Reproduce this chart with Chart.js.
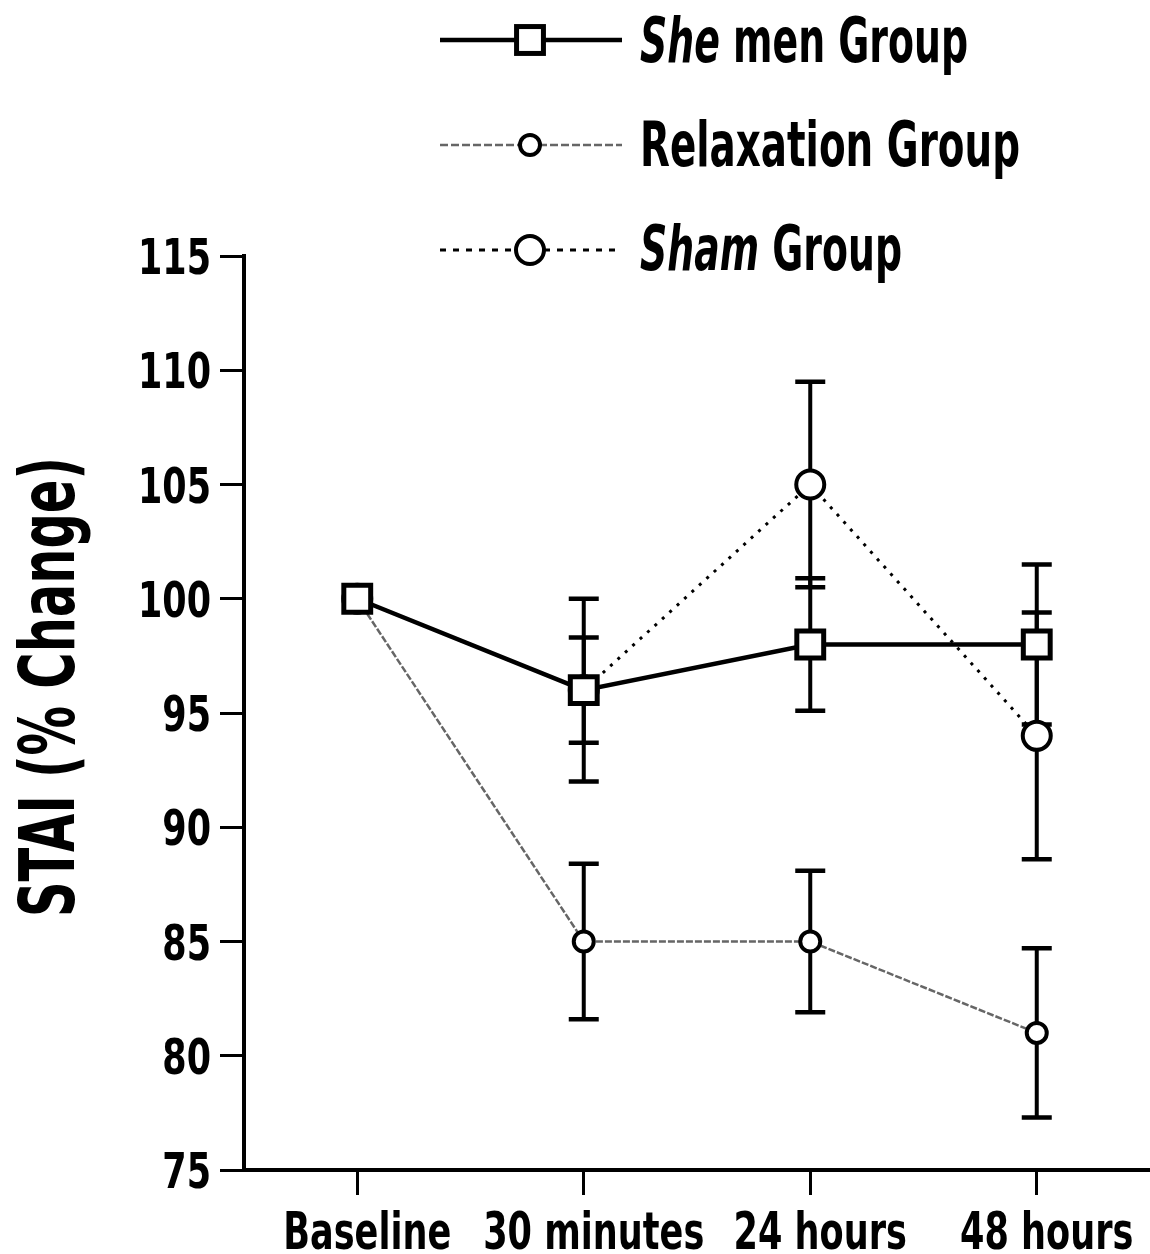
<!DOCTYPE html>
<html>
<head>
<meta charset="utf-8">
<script src="https://cdn.jsdelivr.net/npm/chart.js@4/dist/chart.umd.min.js"></script>
<style>
  html, body { margin: 0; padding: 0; background: #fff; }
  #wrap { width: 1150px; height: 1254px; position: relative; }
</style>
</head>
<body>
<div id="wrap"><canvas id="c" width="1150" height="1254"></canvas></div>
<script>
// ---- data ----
const categories = ['Baseline', '30 minutes', '24 hours', '48 hours'];
const shemenValues = [100, 96, 98, 98];
const shemenErr = [0, 2.3, 2.9, 3.5];
const relaxationValues = [100, 85, 85, 81];
const relaxationErr = [0, 3.4, 3.1, 3.7];
const shamValues = [100, 96, 105, 94];
const shamErr = [0, 4.0, 4.5, 5.4];
const yMin = 75, yMax = 115, yStep = 5;
const seriesNames = ['She men Group', 'Relaxation Group', 'Sham Group'];
const yTitle = 'STAI (% Change)';

const FONT = '"Liberation Sans Narrow", "DejaVu Sans Condensed", "DejaVu Sans", sans-serif';

const errorSets = [shemenErr, shamErr, relaxationErr];

const errorBarPlugin = {
  id: 'errorBars',
  beforeDatasetsDraw(chart) {
    const ctx = chart.ctx;
    const y = chart.scales.y;
    ctx.save();
    ctx.strokeStyle = '#000';
    chart.data.datasets.forEach((ds, di) => {
      const meta = chart.getDatasetMeta(di);
      const errs = errorSets[di];
      meta.data.forEach((pt, i) => {
        const e = errs[i];
        if (!e) return;
        const v = ds.data[i];
        const yTop = y.getPixelForValue(v + e);
        const yBot = y.getPixelForValue(v - e);
        const x = pt.x;
        ctx.lineWidth = 4;
        ctx.beginPath();
        ctx.moveTo(x, yTop); ctx.lineTo(x, yBot);
        ctx.stroke();
        ctx.lineWidth = 4.5;
        ctx.beginPath();
        ctx.moveTo(x - 15, yTop); ctx.lineTo(x + 15, yTop);
        ctx.moveTo(x - 15, yBot); ctx.lineTo(x + 15, yBot);
        ctx.stroke();
      });
    });
    ctx.restore();
  }
};

function drawSegments(ctx, segs, x, y, targetW, size) {
  let total = 0;
  segs.forEach(s => { ctx.font = (s.italic ? 'italic ' : '') + 'bold ' + size + 'px ' + FONT; total += ctx.measureText(s.t).width; });
  const sx = targetW / total;
  ctx.save();
  ctx.translate(x, y);
  ctx.scale(sx, 1);
  let cx = 0;
  segs.forEach(s => {
    ctx.font = (s.italic ? 'italic ' : '') + 'bold ' + size + 'px ' + FONT;
    ctx.fillText(s.t, cx, 0);
    cx += ctx.measureText(s.t).width;
  });
  ctx.restore();
}

// condensed tick labels drawn from the scales' own ticks
const tickLabelPlugin = {
  id: 'tickLabels',
  afterDraw(chart) {
    const ctx = chart.ctx;
    ctx.save();
    ctx.fillStyle = '#000';
    ctx.textBaseline = 'alphabetic';
    const ys = chart.scales.y;
    ctx.font = 'bold 50px ' + FONT;
    const syx = 73 / ctx.measureText('100').width;
    ys.ticks.forEach((t, i) => {
      const py = ys.getPixelForTick(i);
      const w = ctx.measureText(t.label).width;
      ctx.save();
      ctx.translate(211, py + 18);
      ctx.scale(syx, 1);
      ctx.fillText(t.label, -w, 0);
      ctx.restore();
    });
    const xs = chart.scales.x;
    ctx.font = 'bold 52px ' + FONT;
    const sxx = 168 / ctx.measureText(categories[0]).width;
    xs.ticks.forEach((t, i) => {
      const px = xs.getPixelForTick(i);
      const label = categories[t.value] !== undefined ? categories[t.value] : t.label;
      const w = ctx.measureText(label).width;
      ctx.save();
      ctx.translate(px + 10, 1249);
      ctx.scale(sxx, 1);
      ctx.fillText(label, -w / 2, 0);
      ctx.restore();
    });
    ctx.restore();
  }
};

const legendPlugin = {
  id: 'customLegend',
  afterDraw(chart) {
    const ctx = chart.ctx;
    ctx.save();
    ctx.fillStyle = '#000';
    ctx.textBaseline = 'alphabetic';
    ctx.textAlign = 'left';
    const rows = [
      { y: 40, ds: chart.data.datasets[0], segs: [{t: 'She', italic: true}, {t: ' men Group'}], base: 62, w: 328 },
      { y: 145, ds: chart.data.datasets[2], segs: [{t: 'Relaxation Group'}], base: 166, w: 380 },
      { y: 250, ds: chart.data.datasets[1], segs: [{t: 'Sham', italic: true}, {t: ' Group'}], base: 270, w: 262 }
    ];
    rows.forEach(r => {
      const ds = r.ds;
      ctx.save();
      ctx.strokeStyle = ds.borderColor;
      ctx.lineWidth = ds.borderWidth;
      ctx.setLineDash(ds.legendDash || ds.borderDash || []);
      ctx.beginPath();
      ctx.moveTo(440, r.y); ctx.lineTo(622, r.y);
      ctx.stroke();
      ctx.restore();
      ctx.save();
      ctx.setLineDash([]);
      ctx.lineWidth = ds.pointBorderWidth;
      ctx.strokeStyle = '#000';
      ctx.fillStyle = '#fff';
      const mx = 530;
      if (ds.pointStyle === 'rect') {
        const s = ds.pointRadius / Math.SQRT2;
        ctx.fillRect(mx - s, r.y - s, 2 * s, 2 * s);
        ctx.strokeRect(mx - s, r.y - s, 2 * s, 2 * s);
      } else {
        ctx.beginPath();
        ctx.arc(mx, r.y, ds.pointRadius, 0, Math.PI * 2);
        ctx.fill(); ctx.stroke();
      }
      ctx.restore();
      ctx.fillStyle = '#000';
      drawSegments(ctx, r.segs, 640, r.base, r.w, 62);
    });
    ctx.save();
    ctx.translate(74, 687);
    ctx.rotate(-Math.PI / 2);
    ctx.textAlign = 'left';
    ctx.textBaseline = 'alphabetic';
    ctx.font = 'bold 76px ' + FONT;
    const tw = ctx.measureText(yTitle).width;
    ctx.scale(460 / tw, 1);
    ctx.fillText(yTitle, -tw / 2, 0);
    ctx.restore();
    ctx.restore();
  }
};

new Chart(document.getElementById('c'), {
  type: 'line',
  data: {
    labels: categories,
    datasets: [
      {
        label: seriesNames[0],
        data: shemenValues,
        borderColor: '#000',
        borderWidth: 4.5,
        pointStyle: 'rect',
        pointRadius: 19,
        pointBorderWidth: 5,
        pointBackgroundColor: '#fff',
        pointBorderColor: '#000',
        tension: 0
      },
      {
        label: seriesNames[2],
        data: shamValues,
        borderColor: '#000',
        borderWidth: 3,
        borderDash: [3, 7],
        legendDash: [6, 7],
        pointStyle: 'circle',
        pointRadius: 14,
        pointBorderWidth: 4,
        pointBackgroundColor: '#fff',
        pointBorderColor: '#000',
        tension: 0
      },
      {
        label: seriesNames[1],
        data: relaxationValues,
        borderColor: '#666',
        borderWidth: 2.5,
        borderDash: [7, 2],
        legendDash: [8, 3],
        pointStyle: 'circle',
        pointRadius: 10,
        pointBorderWidth: 4,
        pointBackgroundColor: '#fff',
        pointBorderColor: '#000',
        tension: 0
      }
    ]
  },
  options: {
    responsive: false,
    animation: false,
    devicePixelRatio: 1,
    layout: { autoPadding: false, padding: { top: 256, right: -10, left: 0, bottom: 0 } },
    plugins: { legend: { display: false }, tooltip: { enabled: false } },
    scales: {
      x: {
        offset: true,
        afterFit(s) { s.height = 84; },
        border: { display: true, color: '#000', width: 4 },
        grid: { display: true, drawOnChartArea: false, drawTicks: true, tickLength: 25, tickWidth: 3, tickColor: '#000', offset: false },
        ticks: { display: false, autoSkip: false }
      },
      y: {
        min: yMin,
        max: yMax,
        afterFit(s) { s.width = 244; },
        border: { display: true, color: '#000', width: 4 },
        grid: { display: true, drawOnChartArea: false, drawTicks: true, tickLength: 24, tickWidth: 3, tickColor: '#000' },
        ticks: { display: false, stepSize: yStep }
      }
    }
  },
  plugins: [errorBarPlugin, tickLabelPlugin, legendPlugin]
});
</script>
</body>
</html>
